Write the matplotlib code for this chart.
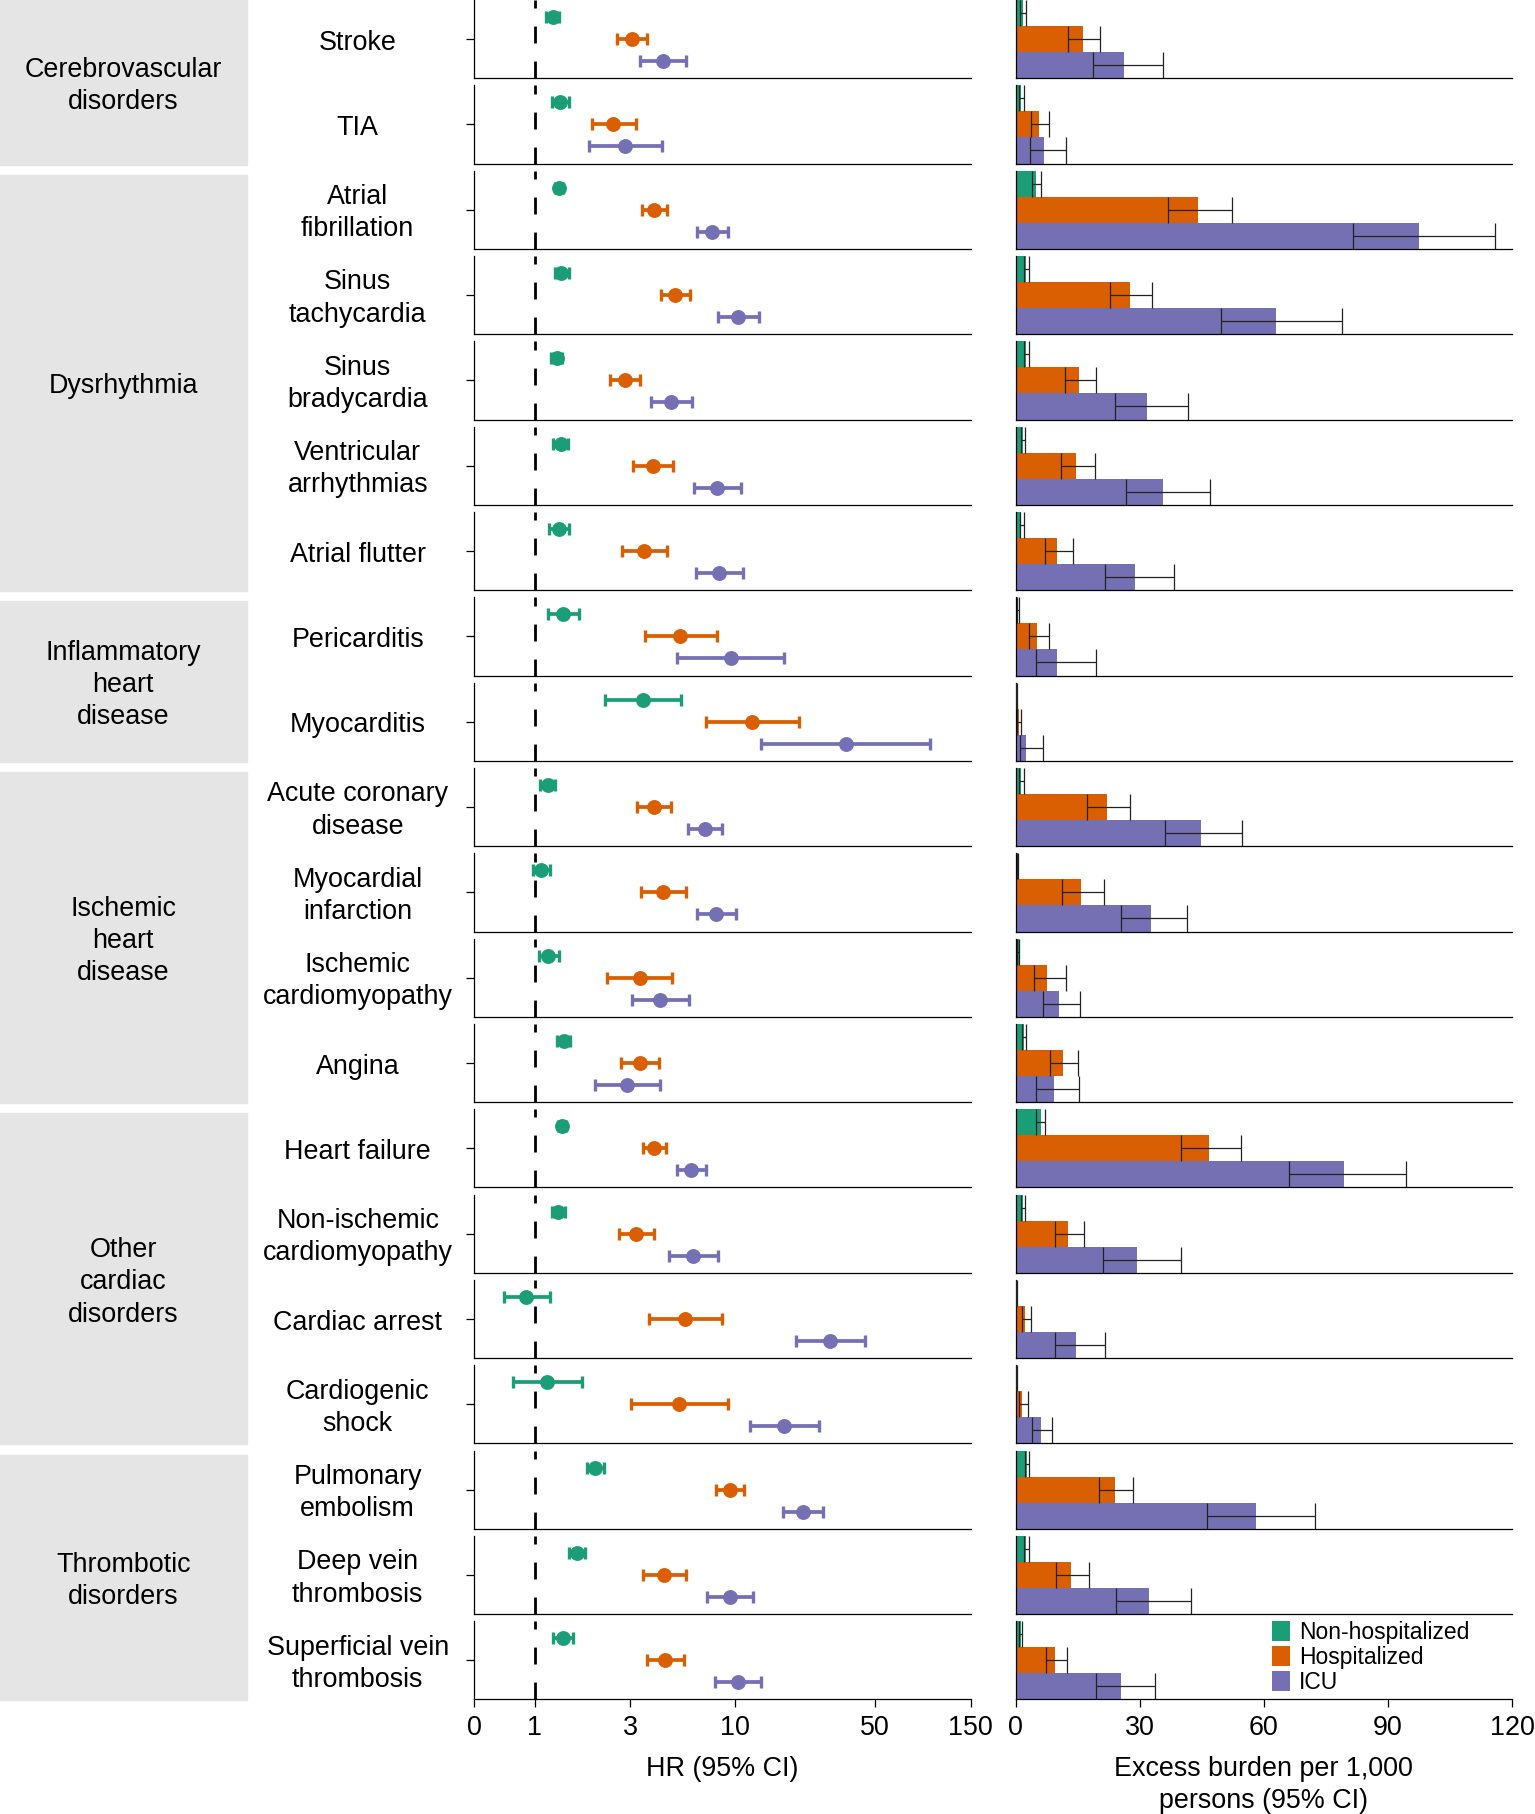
import matplotlib
matplotlib.use("Agg")
import matplotlib.pyplot as plt
from matplotlib.patches import Patch, Rectangle
from matplotlib.ticker import NullLocator

plt.rcParams['font.family'] = ['Liberation Sans', 'DejaVu Sans']

# outcome rows (top to bottom)
outcomes = ["Stroke", "TIA", "Atrial\nfibrillation", "Sinus\ntachycardia",
            "Sinus\nbradycardia", "Ventricular\narrhythmias", "Atrial flutter",
            "Pericarditis", "Myocarditis", "Acute coronary\ndisease",
            "Myocardial\ninfarction", "Ischemic\ncardiomyopathy", "Angina",
            "Heart failure", "Non-ischemic\ncardiomyopathy", "Cardiac arrest",
            "Cardiogenic\nshock", "Pulmonary\nembolism", "Deep vein\nthrombosis",
            "Superficial vein\nthrombosis"]

groups = ["Cerebrovascular\ndisorders", "Dysrhythmia", "Inflammatory\nheart\ndisease",
          "Ischemic\nheart\ndisease", "Other\ncardiac\ndisorders", "Thrombotic\ndisorders"]
group_sizes = [2, 5, 2, 4, 4, 3]

settings = ["Non-hospitalized", "Hospitalized", "ICU"]
colors = ["#1b9e77", "#d95f02", "#7570b3"]

# hazard ratios: estimate, lower, upper
hr_non = [1.23, 1.34, 1.32, 1.36, 1.29, 1.35, 1.32, 1.38, 3.47, 1.16,
          1.08, 1.17, 1.40, 1.37, 1.31, 0.91, 1.15, 2.01, 1.62, 1.38]
hr_non_lo = [1.14, 1.22, 1.26, 1.26, 1.21, 1.24, 1.18, 1.16, 2.24, 1.06,
             0.98, 1.05, 1.30, 1.31, 1.22, 0.70, 0.78, 1.83, 1.48, 1.24]
hr_non_hi = [1.33, 1.49, 1.38, 1.48, 1.37, 1.46, 1.48, 1.67, 5.40, 1.27,
             1.20, 1.32, 1.51, 1.43, 1.41, 1.19, 1.73, 2.23, 1.79, 1.55]

hr_hosp = [3.06, 2.47, 3.94, 5.04, 2.81, 3.90, 3.53, 5.33, 12.2, 3.93,
           4.35, 3.34, 3.34, 3.94, 3.21, 5.63, 5.27, 9.40, 4.44, 4.49]
hr_hosp_lo = [2.57, 1.93, 3.42, 4.27, 2.38, 3.11, 2.73, 3.55, 7.19, 3.25,
              3.38, 2.31, 2.71, 3.46, 2.64, 3.72, 3.01, 8.01, 3.49, 3.62]
hr_hosp_hi = [3.65, 3.19, 4.59, 5.94, 3.36, 4.90, 4.58, 8.10, 20.8, 4.81,
              5.67, 4.87, 4.18, 4.51, 3.93, 8.58, 9.26, 11.1, 5.69, 5.56]

hr_icu = [4.35, 2.82, 7.71, 10.4, 4.81, 8.13, 8.35, 9.51, 35.7, 7.08,
          8.04, 4.22, 2.88, 6.05, 6.17, 29.8, 17.6, 21.8, 9.44, 10.35]
hr_icu_lo = [3.36, 1.87, 6.46, 8.26, 3.79, 6.24, 6.39, 5.15, 13.5, 5.83,
             6.44, 3.05, 1.99, 5.13, 4.70, 20.1, 11.9, 17.4, 7.25, 7.94]
hr_icu_hi = [5.69, 4.32, 9.19, 13.2, 6.12, 10.7, 10.96, 17.6, 94.5, 8.61,
             10.1, 5.89, 4.21, 7.19, 8.19, 44.5, 26.1, 27.6, 12.35, 13.5]

# excess burden per 1,000 persons: estimate, lower, upper
eb_non = [1.8, 1.3, 4.8, 2.4, 2.4, 1.7, 1.3, 0.4, 0.1, 1.3,
          0.4, 0.7, 1.9, 6.0, 1.7, 0.1, 0.1, 2.7, 2.4, 1.2]
eb_non_lo = [1.1, 0.8, 4.0, 1.9, 1.9, 1.3, 1.1, 0.2, 0.05, 0.8,
             0.2, 0.3, 1.5, 5.0, 1.4, 0.02, 0.02, 2.3, 1.9, 0.9]
eb_non_hi = [2.5, 1.9, 6.0, 3.1, 3.1, 2.3, 1.9, 0.8, 0.2, 1.9,
             0.6, 0.9, 2.4, 7.1, 2.3, 0.2, 0.2, 3.3, 3.1, 1.5]

eb_hosp = [16.2, 5.6, 44.1, 27.6, 15.3, 14.7, 10.1, 5.2, 0.8, 22.0,
           15.7, 7.6, 11.4, 46.8, 12.7, 2.3, 1.6, 24.0, 13.3, 9.6]
eb_hosp_lo = [12.7, 3.6, 36.8, 22.9, 12.0, 11.0, 7.1, 3.1, 0.4, 17.2,
              11.3, 4.4, 8.4, 40.0, 9.4, 1.5, 0.7, 20.2, 9.8, 7.3]
eb_hosp_hi = [20.3, 8.1, 52.4, 33.0, 19.3, 19.2, 13.9, 8.1, 1.4, 27.7,
              21.3, 12.2, 15.1, 54.4, 16.4, 3.8, 2.9, 28.4, 17.7, 12.3]

eb_icu = [26.2, 6.9, 97.4, 62.9, 31.8, 35.6, 28.8, 10.1, 2.5, 44.7,
          32.6, 10.5, 9.2, 79.3, 29.4, 14.5, 6.0, 58.0, 32.2, 25.5]
eb_icu_lo = [18.7, 3.4, 81.5, 49.7, 23.9, 26.7, 21.5, 5.0, 1.0, 36.2,
             25.5, 6.7, 4.9, 66.0, 21.2, 9.6, 3.9, 46.2, 24.3, 19.3]
eb_icu_hi = [35.7, 12.2, 115.9, 78.8, 41.7, 47.0, 38.3, 19.3, 6.7, 54.8,
             41.3, 15.6, 15.2, 94.4, 40.0, 21.6, 8.8, 72.4, 42.5, 33.6]

hr_ticks = [0.5, 1, 3, 10, 50, 150]
hr_ticklabels = ["0", "1", "3", "10", "50", "150"]
eb_ticks = [0, 30, 60, 90, 120]

hr_sets = [(hr_non, hr_non_lo, hr_non_hi), (hr_hosp, hr_hosp_lo, hr_hosp_hi),
           (hr_icu, hr_icu_lo, hr_icu_hi)]
eb_sets = [(eb_non, eb_non_lo, eb_non_hi), (eb_hosp, eb_hosp_lo, eb_hosp_hi),
           (eb_icu, eb_icu_lo, eb_icu_hi)]

# layout in pixels
W, H = 1535, 1814
FS = 19.4
LS = 1.32
pitch, ph = 85.33, 78.2
hr_l, hr_r = 474.3, 970.7
eb_l, eb_r = 1015.7, 1512.0
box_r = 246.7
txt_dy = 3.5


def fx(p):
    return p / W


def fy(p):
    return 1 - p / H


fig = plt.figure(figsize=(W / 100, H / 100), dpi=100)

ypos = [1, 0, -1]
n = len(outcomes)
for i in range(n):
    top = i * pitch
    last = i == n - 1
    # hazard ratio panel
    ax = fig.add_axes([fx(hr_l), fy(top + ph), fx(hr_r - hr_l), ph / H])
    ax.set_xscale("log")
    ax.set_xlim(0.5, 150)
    ax.set_ylim(-1.773, 1.773)
    ax.plot([1, 1], [-1.773, 1.773], color="black", lw=2,
            linestyle=(0, (6.1, 6.5)), zorder=1)
    for k in range(3):
        est, lo, hi = hr_sets[k]
        ax.errorbar([est[i]], [ypos[k]], xerr=[[est[i] - lo[i]], [hi[i] - est[i]]],
                    fmt="o", color=colors[k], ms=9.7, elinewidth=2.7,
                    capsize=4, capthick=2.4, zorder=3)
    for s in ["top", "right"]:
        ax.spines[s].set_visible(False)
    for s in ["left", "bottom"]:
        ax.spines[s].set_linewidth(0.9)
    ax.set_yticks([0])
    ax.tick_params(axis="y", length=6, width=0.9, labelleft=False)
    ax.xaxis.set_minor_locator(NullLocator())
    if last:
        ax.set_xticks(hr_ticks)
        ax.set_xticklabels(hr_ticklabels)
        ax.tick_params(axis="x", length=6, width=0.9, labelsize=FS, pad=5.5)
    else:
        ax.set_xticks([])

    # excess burden panel
    bx = fig.add_axes([fx(eb_l), fy(top + ph), fx(eb_r - eb_l), ph / H])
    bx.set_xlim(0, 120)
    bx.set_ylim(-1.5, 1.5)
    for k in range(3):
        est, lo, hi = eb_sets[k]
        bx.barh(ypos[k], est[i], height=1, color=colors[k], zorder=2)
        bx.vlines([lo[i], hi[i]], ypos[k] - 0.5, ypos[k] + 0.5,
                  color="#222222", lw=0.9, zorder=3)
        bx.hlines(ypos[k], lo[i], hi[i], color="#222222", lw=0.9, zorder=3)
    for s in ["top", "right"]:
        bx.spines[s].set_visible(False)
    for s in ["left", "bottom"]:
        bx.spines[s].set_linewidth(0.9)
    bx.set_yticks([])
    if last:
        bx.set_xticks(eb_ticks)
        bx.tick_params(axis="x", length=6, width=0.9, labelsize=FS, pad=5.5)
    else:
        bx.set_xticks([])

    fig.text(fx(357.7), fy(top + ph / 2 + txt_dy), outcomes[i], ha="center",
             va="center", fontsize=FS, linespacing=LS)

# category boxes
start = 0
for g, size in zip(groups, group_sizes):
    y0 = 0 if start == 0 else start * pitch + 4
    y1 = (start + size - 1) * pitch + ph + 1
    fig.patches.append(Rectangle((0, fy(y1)), fx(box_r), (y1 - y0) / H,
                                 transform=fig.transFigure, color="#e5e5e5",
                                 zorder=0))
    fig.text(fx(box_r / 2), fy((y0 + y1) / 2 + txt_dy), g, ha="center",
             va="center", fontsize=FS, linespacing=LS)
    start += size

fig.text(fx((hr_l + hr_r) / 2), fy(1755.5), "HR (95% CI)", ha="center", va="top",
         fontsize=FS)
fig.text(fx((eb_l + eb_r) / 2), fy(1755.5), "Excess burden per 1,000\npersons (95% CI)",
         ha="center", va="top", fontsize=FS, linespacing=LS)

handles = [Patch(facecolor=c, edgecolor="none") for c in colors]
fig.legend(handles, settings, loc="upper left",
           bbox_to_anchor=(fx(1272), fy(1620.5)), frameon=False, fontsize=16.5,
           borderpad=0, borderaxespad=0, handlelength=0.79, handleheight=0.96,
           handletextpad=0.39, labelspacing=0.1)

fig.savefig("out.png", dpi=100)
